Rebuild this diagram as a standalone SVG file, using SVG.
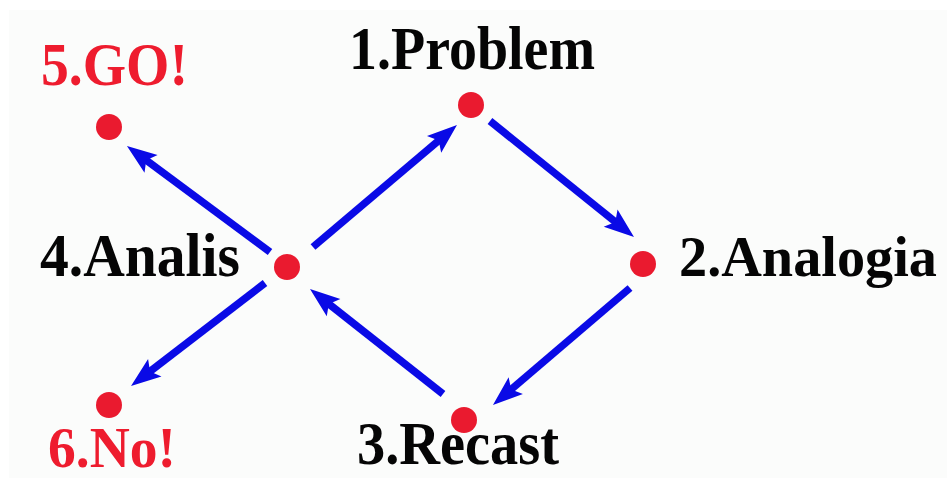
<svg xmlns="http://www.w3.org/2000/svg" width="947" height="480" viewBox="0 0 947 480">
<style>
.dot{fill:#ea1a2f}
.lbl{font-family:"Liberation Serif","Times New Roman",serif;font-weight:bold;font-size:61px;fill:#050505}
.red{fill:#ee1c2e}
.arr{stroke:#0a0ae6;stroke-width:7.5;fill:none;marker-end:url(#ah)}
</style>
<defs>
<marker id="ah" viewBox="-18 -13 34 26" markerWidth="34" markerHeight="26" refX="0" refY="0" markerUnits="userSpaceOnUse" orient="auto">
<path d="M14,0 L-16,-11 L-10,0 L-16,11 Z" fill="#0a0ae6"/>
</marker>
</defs>
<rect x="0" y="0" width="947" height="480" fill="#ffffff"/>
<rect x="9" y="10" width="938" height="468" fill="#fbfcfb"/>
<g id="connectors">
<line class="arr" x1="313" y1="247" x2="446.3" y2="134.1"/>
<line class="arr" x1="490" y1="121" x2="623.1" y2="228.2"/>
<line class="arr" x1="630" y1="288" x2="503.6" y2="395.9"/>
<line class="arr" x1="443" y1="394" x2="321" y2="297.7"/>
<line class="arr" x1="270" y1="252" x2="138.2" y2="154.3"/>
<line class="arr" x1="265" y1="283" x2="142.1" y2="377.5"/>
</g>
<g id="n1"><circle class="dot" cx="471" cy="105" r="13"/><text class="lbl" x="349" y="69" textLength="246" lengthAdjust="spacingAndGlyphs">1.Problem</text></g>
<g id="n2"><circle class="dot" cx="643" cy="264" r="13"/><text class="lbl" x="679" y="276" style="font-size:57px" textLength="258" lengthAdjust="spacingAndGlyphs">2.Analogia</text></g>
<g id="n3"><circle class="dot" cx="464" cy="420" r="13"/><text class="lbl" x="357" y="464" textLength="202" lengthAdjust="spacingAndGlyphs">3.Recast</text></g>
<g id="n4"><circle class="dot" cx="287" cy="267" r="13"/><text class="lbl" x="40" y="276" textLength="200" lengthAdjust="spacingAndGlyphs">4.Analis</text></g>
<g id="n5"><circle class="dot" cx="109" cy="127" r="13"/><text class="lbl red" x="41" y="85" textLength="147" lengthAdjust="spacingAndGlyphs">5.GO!</text></g>
<g id="n6"><circle class="dot" cx="109" cy="405" r="13"/><text class="lbl red" x="48" y="467" style="font-size:58px" textLength="128" lengthAdjust="spacingAndGlyphs">6.No!</text></g>
</svg>
